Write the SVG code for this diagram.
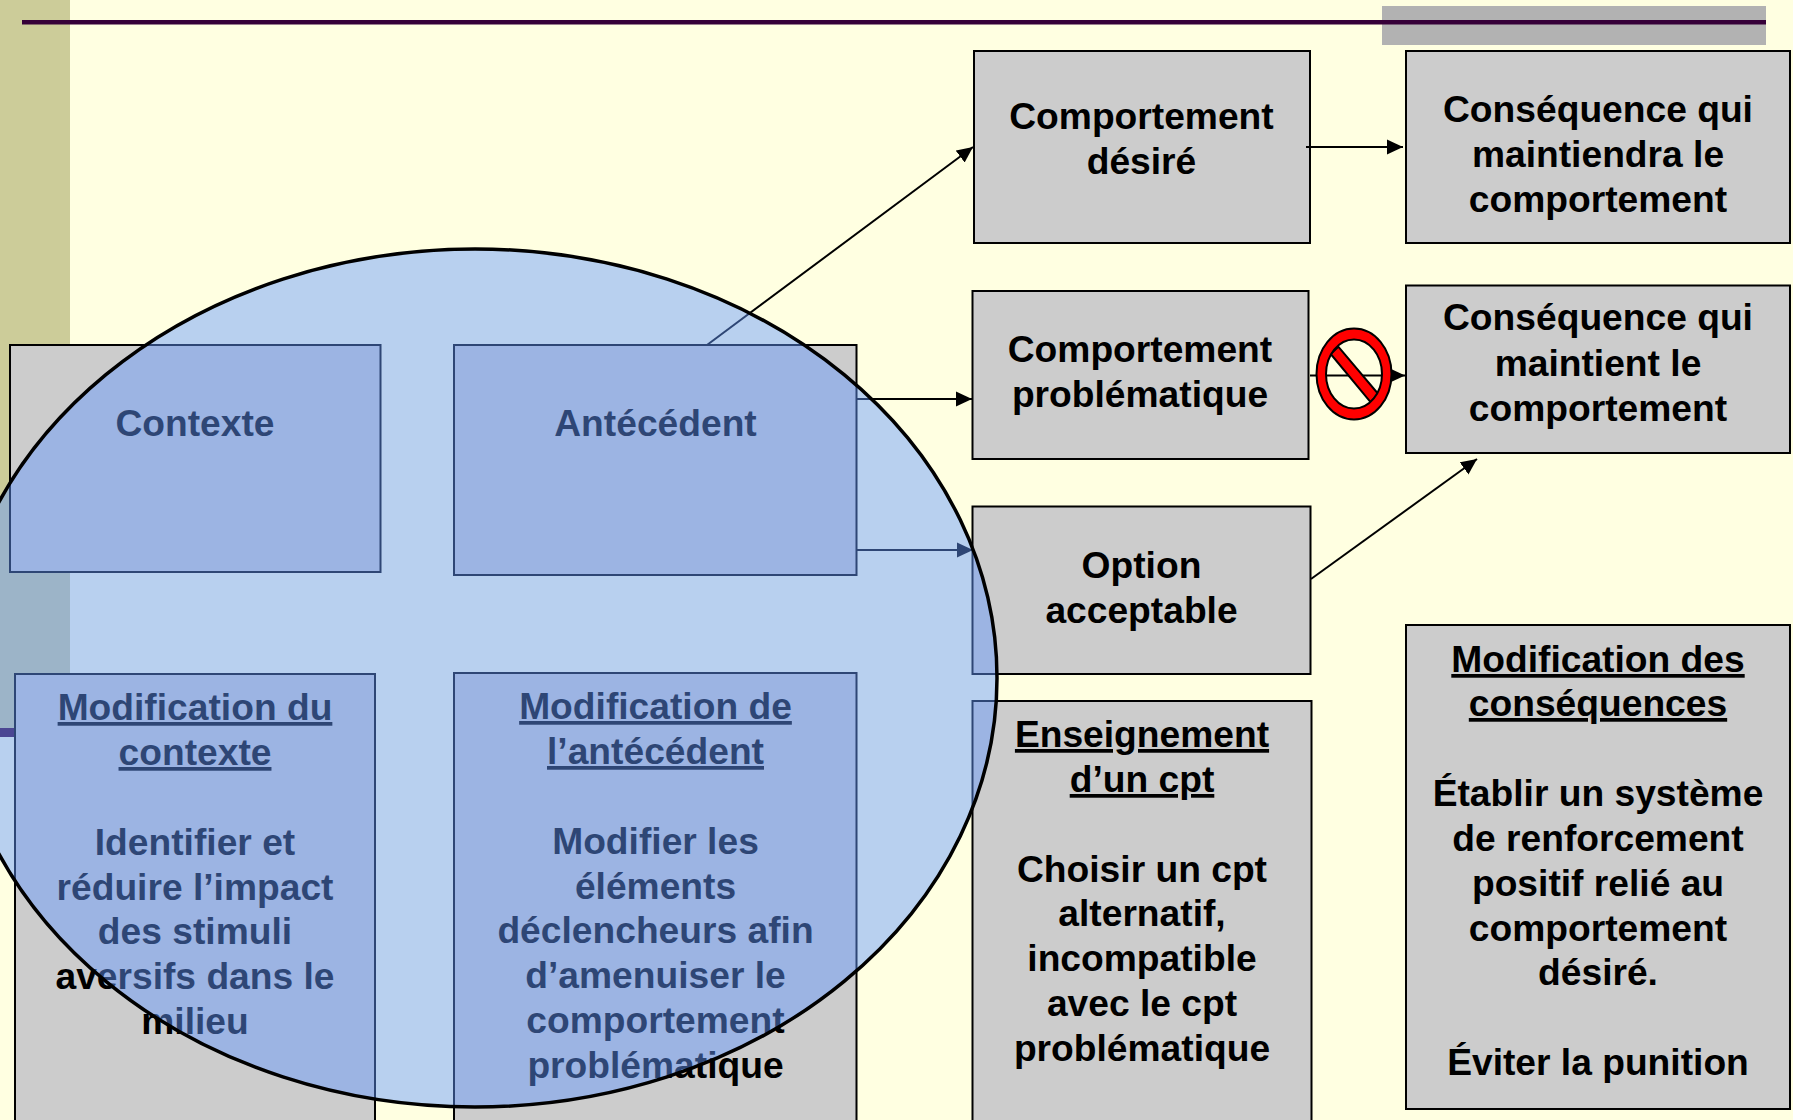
<svg xmlns="http://www.w3.org/2000/svg" width="1793" height="1120" viewBox="0 0 1793 1120">
<defs>
<style>
.box{fill:#CCCCCC;stroke:#000;stroke-width:2}
text{font-family:"Liberation Sans",Arial,sans-serif;font-weight:bold;font-size:37.2px;fill:#000;text-anchor:middle}
.u{text-decoration:underline}
.c{stroke:#000;stroke-width:2;fill:none;marker-end:url(#ah)}
</style>
<marker id="ah" markerUnits="userSpaceOnUse" markerWidth="17" markerHeight="17" refX="16" refY="8" orient="auto"><path d="M0,0.500 L16,8 L0,15.500 Z" fill="#000"/></marker>
</defs>
<rect id="background" width="1793" height="1120" fill="#FFFFE1"/>
<g id="slide-decor">
<rect x="0" y="0" width="70" height="728" fill="#CCCC99"/>
<rect x="0" y="728" width="20" height="9" fill="#360038"/>
<rect x="1382" y="6" width="384" height="39" fill="#B2B2B2"/>
<rect x="22" y="20" width="1744" height="4.500" fill="#360038"/>
</g>
<g id="contexte"><rect class="box" x="10" y="345" width="370.500" height="227"/><text x="195" y="436">Contexte</text></g>
<g id="antecedent"><rect class="box" x="454" y="345" width="402.500" height="230"/><text x="655.500" y="436">Antécédent</text></g>
<g id="modification-contexte"><rect class="box" x="15" y="674" width="360" height="460"/>
<text x="195" y="720" class="u">Modification du</text><text x="195" y="765" class="u">contexte</text>
<text x="195" y="855">Identifier et</text><text x="195" y="900">réduire l’impact</text><text x="195" y="944">des stimuli</text><text x="195" y="989">aversifs dans le</text><text x="195" y="1034">milieu</text></g>
<g id="modification-antecedent"><rect class="box" x="454" y="673" width="402.500" height="460"/>
<text x="655.500" y="719" class="u">Modification de</text><text x="655.500" y="764" class="u">l’antécédent</text>
<text x="655.500" y="854">Modifier les</text><text x="655.500" y="899">éléments</text><text x="655.500" y="943">déclencheurs afin</text><text x="655.500" y="988">d’amenuiser le</text><text x="655.500" y="1033">comportement</text><text x="655.500" y="1078">problématique</text></g>
<g id="comportement-desire"><rect class="box" x="974" y="51" width="336" height="192"/><text x="1141.500" y="128.500">Comportement</text><text x="1141.500" y="173.500">désiré</text></g>
<g id="comportement-problematique"><rect class="box" x="972.500" y="291" width="336" height="168"/><text x="1140" y="361.500">Comportement</text><text x="1140" y="406.500">problématique</text></g>
<g id="option-acceptable"><rect class="box" x="972.500" y="506.500" width="338" height="167.500"/><text x="1141.500" y="578">Option</text><text x="1141.500" y="623">acceptable</text></g>
<g id="enseignement"><rect class="box" x="972.500" y="701" width="339" height="440"/>
<text x="1142" y="747" class="u">Enseignement</text><text x="1142" y="792" class="u">d’un cpt</text>
<text x="1142" y="882">Choisir un cpt</text><text x="1142" y="926">alternatif,</text><text x="1142" y="971">incompatible</text><text x="1142" y="1016">avec le cpt</text><text x="1142" y="1061">problématique</text></g>
<g id="consequence-maintiendra"><rect class="box" x="1406" y="51" width="384" height="192"/><text x="1598" y="121.500">Conséquence qui</text><text x="1598" y="167">maintiendra le</text><text x="1598" y="212">comportement</text></g>
<g id="consequence-maintient"><rect class="box" x="1406" y="285.500" width="384" height="167.500"/><text x="1598" y="330">Conséquence qui</text><text x="1598" y="376">maintient le</text><text x="1598" y="421">comportement</text></g>
<g id="modification-consequences"><rect class="box" x="1406" y="625" width="384" height="484"/>
<text x="1598" y="672" class="u">Modification des</text><text x="1598" y="716" class="u">conséquences</text>
<text x="1598" y="806">Établir un système</text><text x="1598" y="851">de renforcement</text><text x="1598" y="896">positif relié au</text><text x="1598" y="941">comportement</text><text x="1598" y="985">désiré.</text><text x="1598" y="1075">Éviter la punition</text></g>
<g id="connectors">
<line class="c" x1="707" y1="345" x2="973" y2="147"/>
<line class="c" x1="1306" y1="147" x2="1403" y2="147"/>
<line class="c" x1="857" y1="399" x2="972" y2="399"/>
<line class="c" x1="857" y1="550" x2="973" y2="550"/>
<line class="c" x1="1310" y1="375.500" x2="1405" y2="375.500"/>
<line class="c" x1="1311" y1="579" x2="1477" y2="459"/>
</g>
<g id="no-symbol" stroke="#000" stroke-width="2" fill="#FF0000">
<polygon points="1330.700,354 1338.300,346.700 1378.300,394 1370.700,402.300"/>
<path fill-rule="evenodd" d="M1316.500,374a37.500,45.500 0 1,0 75,0a37.500,45.500 0 1,0 -75,0Z M1326,374a28,34.500 0 1,0 56,0a28,34.500 0 1,0 -56,0Z"/>
</g>
<g id="overlay-ellipse"><ellipse cx="475" cy="678" rx="522" ry="429" fill="#6498FF" fill-opacity="0.46" stroke="#000" stroke-width="3.500"/></g>
</svg>
